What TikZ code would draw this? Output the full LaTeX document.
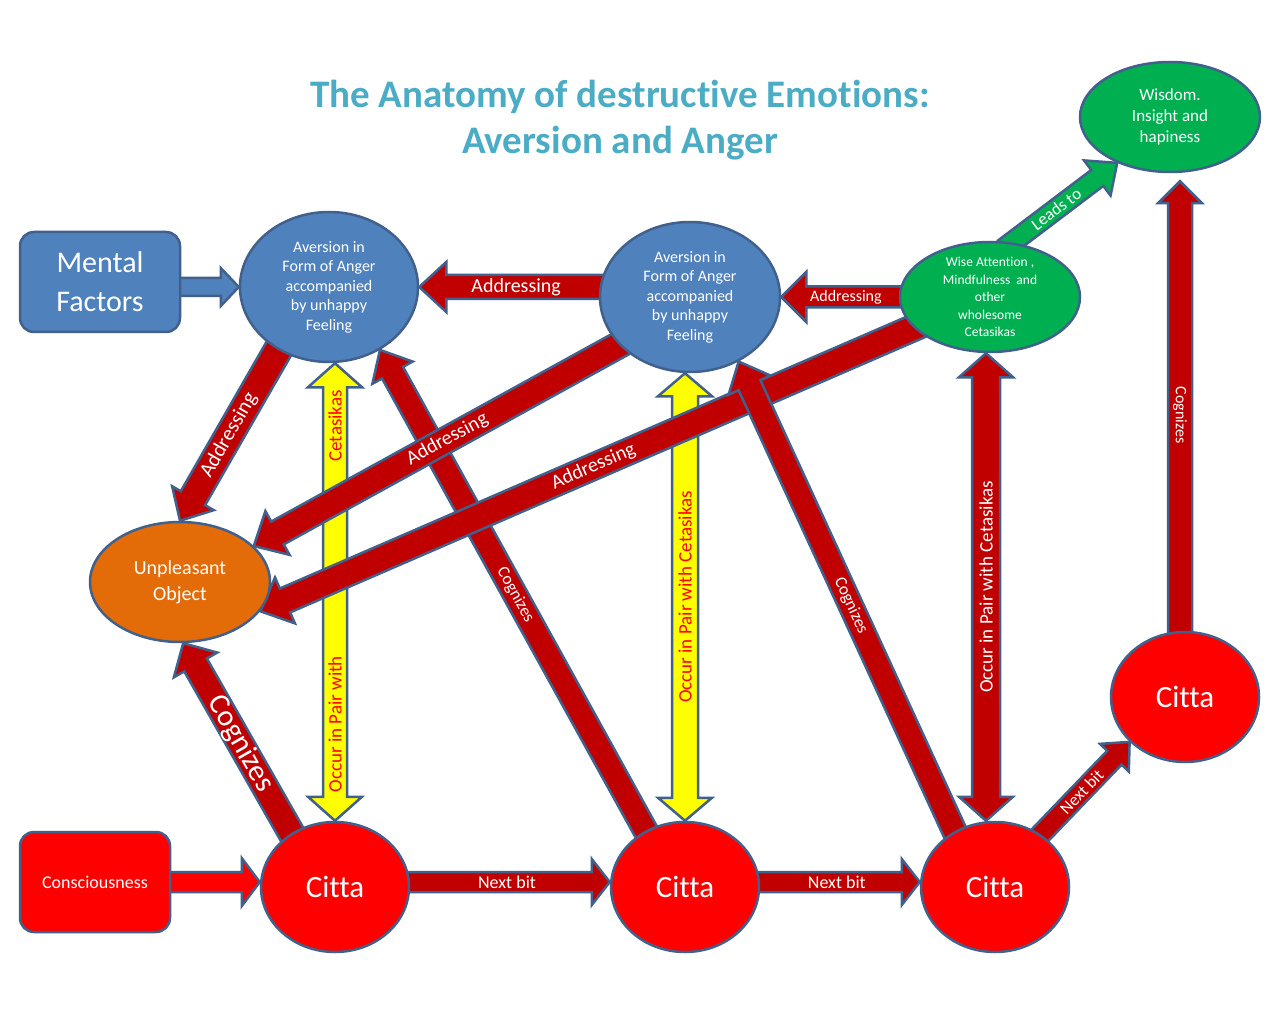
\documentclass[tikz,border=0pt]{standalone}
\usepackage{fontspec}
\setmainfont{Carlito}[Ligatures={NoCommon,NoContextual}]
\usetikzlibrary{calc,shapes.geometric}
\pgfdeclarelayer{bg}
\pgfsetlayers{bg,main}
\definecolor{bord}{HTML}{41618C}
\definecolor{blu}{HTML}{4F81BD}
\definecolor{dred}{HTML}{C00000}
\definecolor{brd}{HTML}{FF0000}
\definecolor{grn}{HTML}{00B050}
\definecolor{org}{HTML}{E36C09}
\definecolor{ttl}{HTML}{4BACC6}
\definecolor{yel}{HTML}{FFFF00}
\newcommand{\fsz}[2]{\fontsize{#1}{#2}\selectfont}
% single-headed block arrow: style, start, end, shaft half width, head half width, head length
\newcommand{\barrow}[6]{%
  \coordinate (bas) at (#2);
  \coordinate (bae) at (#3);
  \coordinate (bat) at ($(bas)!-10pt!(bae)$);
  \coordinate (bam) at ($(bae)!#6!(bas)$);
  \draw[#1] ($(bat)!#4!90:(bae)$) -- ($(bam)!#4!90:(bae)$) -- ($(bam)!#5!90:(bae)$) -- (bae)
    -- ($(bam)!#5!-90:(bae)$) -- ($(bam)!#4!-90:(bae)$) -- ($(bat)!#4!-90:(bae)$) -- cycle;
}
% double-headed block arrow
\newcommand{\dbarrow}[6]{%
  \coordinate (bas) at (#2);
  \coordinate (bae) at (#3);
  \coordinate (bm1) at ($(bas)!#6!(bae)$);
  \coordinate (bm2) at ($(bae)!#6!(bas)$);
  \draw[#1] (bas) -- ($(bm1)!#5!90:(bae)$) -- ($(bm1)!#4!90:(bae)$) -- ($(bm2)!#4!90:(bae)$)
    -- ($(bm2)!#5!90:(bae)$) -- (bae) -- ($(bm2)!#5!-90:(bae)$) -- ($(bm2)!#4!-90:(bae)$)
    -- ($(bm1)!#4!-90:(bae)$) -- ($(bm1)!#5!-90:(bae)$) -- cycle;
}
\begin{document}
\begin{tikzpicture}[x=1pt,y=-1pt,
  ell/.style={ellipse, draw=bord, line width=2.5pt, text=white, align=center, inner sep=0pt},
  rbox/.style={rectangle, rounded corners=14pt, draw=bord, line width=2.5pt, text=white, align=center, inner sep=0pt},
  etxt/.style={text=white, align=center, inner sep=0pt},
  ar/.style={draw=bord, line width=2.5pt, fill=dred, line join=miter},
  ary/.style={ar, fill=yel},
  arb/.style={ar, fill=blu},
  arg/.style={ar, fill=grn},
  arr/.style={ar, fill=brd},
  lab/.style={text=white, inner sep=0pt, font=\fsz{17}{20}},
  laby/.style={text=brd, inner sep=0pt, font=\fsz{19}{22}},
]
\useasboundingbox (0,0) rectangle (1280,1024);

% title
\node[font=\fsz{39}{46}\bfseries, text=ttl, align=center] (title) at (620,120)
  {The Anatomy of destructive Emotions:\\Aversion and Anger};

% nodes
\node[rbox, fill=blu, minimum width=160pt, minimum height=100pt, font=\fsz{30}{39}] (mf) at (100,282) {Mental\\Factors};
\node[ell, fill=blu, minimum width=178pt, minimum height=150pt, font=\fsz{16}{19.5}] (av1) at (329,287)
  {Aversion in\\Form of Anger\\accompanied\\by unhappy\\Feeling};
\node[ell, fill=blu, minimum width=180pt, minimum height=150pt, font=\fsz{16}{19.5}] (av2) at (690,297)
  {Aversion in\\Form of Anger\\accompanied\\by unhappy\\Feeling};
\node[ell, fill=grn, minimum width=180pt, minimum height=110pt] (wise) at (990,297) {};
\node[etxt, font=\fsz{13.5}{17.5}] (wiset) at (wise) {Wise Attention ,\\Mindfulness\ \ and\\other\\wholesome\\Cetasikas};
\node[ell, fill=grn, minimum width=180pt, minimum height=110pt, font=\fsz{17}{21}] (wisdom) at (1170,117)
  {Wisdom.\\Insight and\\hapiness};
\node[ell, fill=org, minimum width=180pt, minimum height=120pt, font=\fsz{20}{26}] (unp) at (180,582)
  {Unpleasant\\Object};
\node[rbox, fill=brd, minimum width=150pt, minimum height=100pt, font=\fsz{18}{20}] (cons) at (95,882) {Consciousness};
\node[ell, fill=brd, minimum width=148pt, minimum height=130pt, font=\fsz{31}{36}] (c1) at (335,887) {Citta};
\node[ell, fill=brd, minimum width=148pt, minimum height=130pt, font=\fsz{31}{36}] (c2) at (685,887) {Citta};
\node[ell, fill=brd, minimum width=148pt, minimum height=130pt, font=\fsz{31}{36}] (c3) at (995,887) {Citta};
\node[ell, fill=brd, minimum width=148pt, minimum height=130pt, font=\fsz{31}{36}] (c4) at (1185,697) {Citta};

\coordinate (d3a) at ([xshift=-9pt]c3.north);
\coordinate (d3b) at (d3a |- wise.south);
\coordinate (k4a) at ([xshift=-5pt]c4.north);
\coordinate (k4b) at ($(k4a |- wisdom.south)+(0,8)$);

\begin{pgfonlayer}{bg}
\fill[white] (0,0) rectangle (1280,1024);
% yellow double arrows
\dbarrow{ary}{c1.north}{c1.north |- av1.south}{12pt}{27pt}{24pt}
\path (bas) -- (bae) node[laby, pos=0.211, rotate=90] (l7a) {Occur in Pair with}
                     node[laby, pos=0.863, rotate=90] (l7b) {Cetasikas};
\dbarrow{ary}{c2.north}{c2.north |- av2.south}{13pt}{27pt}{23pt}
\path (bas) -- (bae) node[laby, pos=0.5, rotate=90] (l10) {Occur in Pair with Cetasikas};
% cognizes
\barrow{ar}{c2.125}{av1.-51}{12pt}{23pt}{26pt}
\path (bas) -- (bae) node[lab, pos=0.49, sloped] (l8) {Cognizes};
\barrow{ar}{c1.129}{unp.-87}{13pt}{25pt}{25pt}
\path (bas) -- (bae) node[lab, pos=0.47, sloped, font=\fsz{30}{34}] (l9) {Cognizes};
% addressing to object
\barrow{ar}{av1.231}{unp.90}{14pt}{24pt}{26pt}
\path (bas) -- (bae) node[lab, pos=0.5, sloped, font=\fsz{21}{24}] (l4) {Addressing};
\barrow{ar}{av2.214}{unp.26}{13pt}{25pt}{27pt}
\path (bas) -- (bae) node[lab, pos=0.47, sloped, font=\fsz{20}{24}] (l5) {Addressing};
\barrow{ar}{wise.202}{unp.-20}{13pt}{25pt}{27pt}
\path (bas) -- (bae) node[lab, pos=0.49, sloped, font=\fsz{20}{24}] (l6) {Addressing};
\barrow{ar}{c3.126}{av2.-53}{12pt}{23pt}{26pt}
\path (bas) -- (bae) node[lab, pos=0.48, sloped] (l11) {Cognizes};
% red double arrow
\dbarrow{ar}{d3a}{d3b}{14pt}{27pt}{24pt}
\path (bas) -- (bae) node[lab, pos=0.5, rotate=90, font=\fsz{19}{22}] (l12) {Occur in Pair with Cetasikas};
% cognizes to wisdom
\barrow{ar}{k4a}{k4b}{12pt}{22pt}{22pt}
\path (bas) -- (bae) node[lab, pos=0.48, rotate=-90, font=\fsz{16}{19}] (l13) {Cognizes};
% leads to
\barrow{arg}{wise.68}{wisdom.221}{10pt}{22pt}{25pt}
\path (bas) -- (bae) node[lab, pos=0.42, sloped] (l14) {Leads to};
% addressing between aversions
\barrow{ar}{av1.east -| av2.west}{av1.east}{12pt}{25pt}{27pt}
\path (bas) -- (bae) node[lab, pos=0.46, font=\fsz{20}{24}] (l2) {Addressing};
\barrow{ar}{wise.west}{av2.east}{10.5pt}{25pt}{25pt}
\path (bas) -- (bae) node[lab, pos=0.45, font=\fsz{16}{19}] (l3) {Addressing};
% mental factors
\barrow{arb}{mf.east |- av1.west}{av1.west}{9pt}{19pt}{18pt}
% consciousness
\barrow{arr}{cons.east}{cons.east -| c1.west}{10pt}{24pt}{18pt}
% next bits
\barrow{ar}{[yshift=5pt]c1.east}{[yshift=5pt]c2.west}{10pt}{23pt}{18pt}
\path (bas) -- (bae) node[lab, pos=0.485, font=\fsz{18}{20}] (l16) {Next bit};
\barrow{ar}{[yshift=5pt]c2.east}{[yshift=5pt]c3.west}{10pt}{23pt}{18pt}
\path (bas) -- (bae) node[lab, pos=0.48, font=\fsz{18}{20}] (l17) {Next bit};
\barrow{ar}{c3.49}{c4.219}{10pt}{20pt}{22pt}
\path (bas) -- (bae) node[lab, pos=0.46, sloped] (l18) {Next bit};
\end{pgfonlayer}
\end{tikzpicture}
\end{document}
